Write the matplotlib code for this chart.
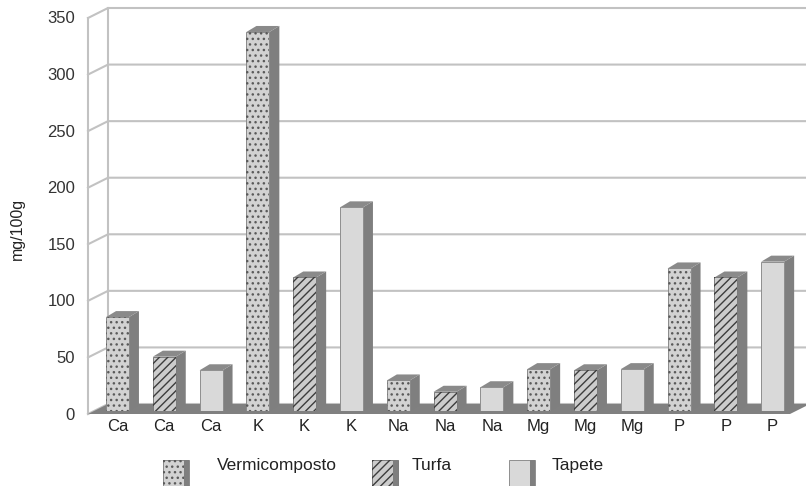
import matplotlib
matplotlib.use("Agg")
import matplotlib.pyplot as plt
import numpy as np
from matplotlib.lines import Line2D
from matplotlib.patches import Polygon, Rectangle
from matplotlib.transforms import IdentityTransform, offset_copy

plt.rcParams["font.family"] = ["Liberation Sans", "DejaVu Sans"]
plt.rcParams["hatch.linewidth"] = 1.0

W, H, DPI = 806, 486, 100

# dados: mg/100g por elemento
elements = ["Ca", "K", "Na", "Mg", "P"]
series = ["Vermicomposto", "Turfa", "Tapete"]
vermicomposto = [83, 335, 27, 37, 126]
turfa = [48, 118, 17, 36, 118]
tapete = [36, 180, 21, 37, 132]
yticks = list(range(0, 351, 50))

# estilos de cada série: (cor da face, borda, hachura, cor da hachura)
STYLES = [
    ("#d2d2d2", "#8a8a8a", "...", "#5a5a5a"),
    ("#cccccc", "#7a7a7a", "////", "#3c3c3c"),
    ("#d9d9d9", "#8f8f8f", None, None),
]
SIDE = "#7f7f7f"
TOP = "#8a8a8a"
GRID = "#c2c2c2"
FLOOR = "#808080"
TXT = "#333333"

BAR_W = 0.49
DEPTH = np.array([10, 6])     # profundidade das barras (px)
FRONT = np.array([0, -3])     # plano frontal das paredes
WALL = np.array([20, 10])     # frente -> fundo da parede

fig = plt.figure(figsize=(W / DPI, H / DPI), dpi=DPI)
fig.patch.set_facecolor("white")
ax = fig.add_axes([88 / W, (H - 411) / H, 702 / W, 396 / H])
ax.set_xlim(-0.63, 14.37)
ax.set_ylim(0, 350)
ax.set_facecolor("none")
for sp in ax.spines.values():
    sp.set_visible(False)

ident = IdentityTransform()


def px(x, v):
    return ax.transData.transform((x, v))


x_left, x_right = ax.get_xlim()

# parede do fundo, parede esquerda e linhas de grade
for v in yticks:
    p0 = px(x_left, v) + FRONT
    p1 = p0 + WALL
    ax.add_line(Line2D([p0[0], p1[0], W + 10], [p0[1], p1[1], p1[1]],
                       transform=ident, color=GRID, lw=1.5, clip_on=False, zorder=0.5))
for off in (FRONT, FRONT + WALL):
    a = px(x_left, 0) + off
    b = px(x_left, 350) + off
    ax.add_line(Line2D([a[0], b[0]], [a[1], b[1]], transform=ident,
                       color=GRID, lw=1.5, clip_on=False, zorder=0.5))

# piso
f0 = px(x_left, 0) + FRONT
f1 = px(x_right, 0) + FRONT
ax.add_patch(Polygon([f0, f1, f1 + WALL, f0 + WALL], closed=True, transform=ident,
                     facecolor=FLOOR, edgecolor="none", clip_on=False, zorder=1))

# barras
for s, vals in enumerate([vermicomposto, turfa, tapete]):
    face, edge, hatch, hcol = STYLES[s]
    xs = np.arange(len(elements)) * 3 + s
    ax.bar(xs, vals, width=BAR_W, color=face, edgecolor=edge, linewidth=0.7, zorder=3)
    if hatch:
        ax.bar(xs, vals, width=BAR_W, facecolor="none", edgecolor=hcol,
               linewidth=0, hatch=hatch, zorder=3.1)
    for xi, v in zip(xs, vals):
        bl, br = px(xi - BAR_W / 2, 0), px(xi + BAR_W / 2, 0)
        tl, tr = px(xi - BAR_W / 2, v), px(xi + BAR_W / 2, v)
        ax.add_patch(Polygon([br, tr, tr + DEPTH, br + DEPTH], closed=True, transform=ident,
                             facecolor=SIDE, edgecolor="none", clip_on=False, zorder=2.9))
        ax.add_patch(Polygon([tl, tr, tr + DEPTH, tl + DEPTH], closed=True, transform=ident,
                             facecolor=TOP, edgecolor="none", clip_on=False, zorder=2.9))

# eixo y: rótulos no plano frontal
ax.set_yticks([])
ytxt = offset_copy(ax.transData, fig=fig, x=-13, y=-4, units="dots")
for v in yticks:
    ax.text(x_left, v, str(v), transform=ytxt, ha="right", va="center",
            fontsize=12, color=TXT, clip_on=False)

labels = [e for e in elements for _ in series]
ax.set_xticks(np.arange(len(labels)), labels)
ax.tick_params(axis="x", length=0, pad=6, labelsize=12, labelcolor="#222222")
fig.text(17 / W, 1 - 229 / H, "mg/100g", rotation=90, ha="center", va="center",
         fontsize=11.5, color="#222222")

# legenda
LEG = [(163, 217), (372, 412), (509, 552)]
for (sx, tx), name, (face, edge, hatch, hcol) in zip(LEG, series, STYLES):
    fig.add_artist(Rectangle((sx, -2), 26, 28, transform=ident,
                             facecolor=face, edgecolor=edge, linewidth=0.7))
    if hatch:
        fig.add_artist(Rectangle((sx, -2), 26, 28, transform=ident, facecolor="none",
                                 edgecolor=hcol, linewidth=0, hatch=hatch))
    fig.add_artist(Rectangle((sx + 21, -2), 5, 28, transform=ident,
                             facecolor=SIDE, edgecolor="none"))
    fig.text(tx / W, 1 - 465 / H, name, ha="left", va="center", fontsize=12.5, color="#222222")

fig.savefig("out.png", dpi=DPI, facecolor="white")
